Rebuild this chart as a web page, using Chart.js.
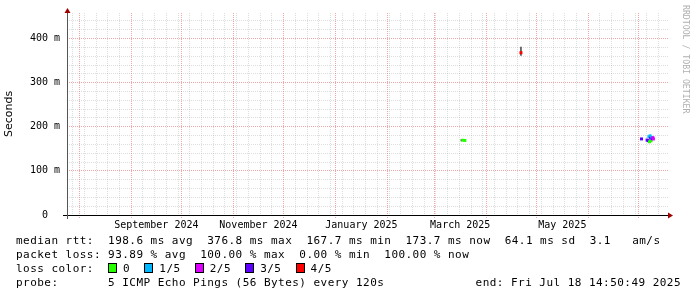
<!DOCTYPE html>
<html>
<head>
<meta charset="utf-8">
<script src="https://cdn.jsdelivr.net/npm/chart.js@4"></script>
<style>
  html, body { margin: 0; padding: 0; background: #fff; }
  #wrap { position: relative; width: 697px; height: 297px; overflow: hidden; background: #fff; }
  #c { position: absolute; left: 0; top: 0; }
  .txt { position: absolute; left: 16px; font-family: "DejaVu Sans Mono", monospace; font-size: 11px; letter-spacing: 0.46px; line-height: 14px; white-space: pre; color: #000; }
  .sw { display: inline-block; width: 7px; height: 8px; border: 1px solid #000; vertical-align: -1px; margin-right: 6px; }
  #brand { position: absolute; left: 681px; top: 5px; writing-mode: vertical-rl; font-family: "DejaVu Sans Mono", monospace; font-size: 8.2px; line-height: 10px; color: #b0b0b0; white-space: pre; }
</style>
</head>
<body>
<div id="wrap">
  <canvas id="c" width="697" height="297"></canvas>
  <div id="brand">RRDTOOL / TOBI OETIKER</div>
  <div class="txt" style="top:234px">median rtt:  198.6 ms avg  376.8 ms max  167.7 ms min  173.7 ms now  64.1 ms sd  3.1   am/s</div>
  <div class="txt" style="top:248px">packet loss: 93.89 % avg  100.00 % max  0.00 % min  100.00 % now</div>
  <div class="txt" id="losses" style="top:262px">loss color:  </div>
  <div class="txt" style="top:276px">probe:       5 ICMP Echo Pings (56 Bytes) every 120s</div>
  <div class="txt" style="top:276px; left:auto; right:16px">end: Fri Jul 18 14:50:49 2025</div>
</div>
<script>
// time window of the graph (UTC)
const rangeStart = '2024-07-24T15:30:00';
const rangeEnd = '2025-07-18T14:50:49';

// month starts (red grid) and the labelled months
const monthStarts = ['2024-08-01', '2024-09-01', '2024-10-01', '2024-11-01', '2024-12-01', '2025-01-01',
  '2025-02-01', '2025-03-01', '2025-04-01', '2025-05-01', '2025-06-01', '2025-07-01'];
const labelMonths = ['2024-09-01', '2024-11-01', '2025-01-01', '2025-03-01', '2025-05-01'];
const monthLabels = ['September 2024', 'November 2024', 'January 2025', 'March 2025', 'May 2025'];
const firstSunday = '2024-07-28';

// y axis
const yTickValues = [0, 100, 200, 300, 400];
const yTickLabels = ['0  ', '100 m', '200 m', '300 m', '400 m'];
const yMax = 458;

// median rtt samples (ms) and lost pings out of 5
const sampleTimes = ['2025-03-18T02:00', '2025-03-19T07:00', '2025-04-21T19:00', '2025-07-02T19:00',
  '2025-07-06T03:00', '2025-07-06T17:00', '2025-07-07T05:00', '2025-07-07T14:00', '2025-07-07T22:00',
  '2025-07-08T05:00', '2025-07-08T12:00', '2025-07-08T19:00', '2025-07-09T02:00', '2025-07-09T14:00',
  '2025-07-09T22:00'];
const medianMs = [169.5, 169, 368, 172.5, 170, 168.5, 177.5, 166, 179.5, 174, 168.5, 176, 173, 175.5, 172.5];
const lostPings = [0, 0, 4, 3, 3, 3, 1, 0, 1, 3, 0, 1, 3, 2, 2];

// smoke (spread of the pings)
const smokeTimes = ['2025-03-17T05:00', '2025-04-21T19:00'];
const smokeLo = [168, 362];
const smokeHi = [171, 381];

// loss legend
const lossLabels = ['0', '1/5', '2/5', '3/5', '4/5'];
const lossColors = ['#26ff00', '#00b8ff', '#dd00ff', '#5e00ff', '#ff0000'];

const t = s => Date.parse(s + (s.length > 10 ? 'Z' : 'T00:00:00Z'));
const DAY = 864e5;
const xMin = t(rangeStart), xMax = t(rangeEnd);

const majorX = monthStarts.map(t);
const gridX = majorX.map(v => ({ value: v, major: true }));
for (let w = t(firstSunday); w < xMax; w += 7 * DAY) {
  if (!majorX.includes(w)) gridX.push({ value: w, major: false });
}
gridX.sort((a, b) => a.value - b.value);

const labelX = labelMonths.map(m => {
  const s = t(m);
  const d = new Date(s);
  const next = Date.UTC(d.getUTCFullYear(), d.getUTCMonth() + 1, 1);
  return { value: (s + next) / 2 };
});

const gridY = [];
for (let v = 0; v < yMax; v += 20) gridY.push({ value: v });

const MAJOR = 'rgba(225,60,60,0.45)';
const MINOR = 'rgba(150,150,150,0.32)';

// legend swatches
const lossBox = document.getElementById('losses');
lossLabels.forEach((l, i) => {
  const sw = document.createElement('span');
  sw.className = 'sw';
  sw.style.background = lossColors[i];
  lossBox.appendChild(sw);
  lossBox.appendChild(document.createTextNode(l + (i < lossLabels.length - 1 ? '  ' : '')));
});

const axesPlugin = {
  id: 'rrdAxes',
  afterDraw(chart) {
    const { ctx, chartArea: a } = chart;
    ctx.save();
    ctx.lineWidth = 1;
    ctx.strokeStyle = '#000';
    ctx.beginPath();
    ctx.moveTo(a.left - 4, a.bottom + 0.5);
    ctx.lineTo(a.right + 1, a.bottom + 0.5);
    ctx.stroke();
    ctx.strokeStyle = '#555';
    ctx.beginPath();
    ctx.moveTo(a.left + 0.5, a.bottom + 4);
    ctx.lineTo(a.left + 0.5, a.top - 2);
    ctx.stroke();
    ctx.fillStyle = '#a00000';
    ctx.beginPath();
    ctx.moveTo(a.right, a.bottom - 2.5);
    ctx.lineTo(a.right + 5, a.bottom + 0.5);
    ctx.lineTo(a.right, a.bottom + 3.5);
    ctx.closePath();
    ctx.fill();
    ctx.beginPath();
    ctx.moveTo(a.left - 2.5, a.top);
    ctx.lineTo(a.left + 0.5, a.top - 5);
    ctx.lineTo(a.left + 3.5, a.top);
    ctx.closePath();
    ctx.fill();
    ctx.restore();
  }
};

new Chart(document.getElementById('c'), {
  type: 'scatter',
  data: {
    datasets: [{
      type: 'bar',
      label: 'smoke',
      data: smokeTimes.map((s, i) => ({ x: t(s), y: [smokeLo[i], smokeHi[i]] })),
      backgroundColor: '#555',
      barThickness: 1,
      order: 2
    }, {
      label: 'median rtt',
      data: sampleTimes.map((s, i) => ({ x: t(s), y: medianMs[i] })),
      pointStyle: 'rect',
      pointRadius: 2.1,
      pointBorderWidth: 0,
      pointBackgroundColor: lostPings.map(l => lossColors[l]),
      order: 1
    }]
  },
  options: {
    responsive: false,
    animation: false,
    events: [],
    layout: { padding: { left: 0, right: 29, top: 12, bottom: 0 } },
    plugins: { legend: { display: false }, tooltip: { enabled: false } },
    scales: {
      x: {
        type: 'linear',
        min: xMin,
        max: xMax,
        offset: false,
        weight: 0,
        afterBuildTicks: s => { s.ticks = gridX.map(g => ({ ...g })); },
        afterFit: s => { s.height = 0; },
        ticks: { display: false, autoSkip: false },
        border: { display: false, dash: [1, 1] },
        grid: {
          offset: false,
          color: c => (c.tick && c.tick.major ? MAJOR : MINOR),
          tickColor: c => (c.tick && c.tick.major ? MAJOR : 'rgba(0,0,0,0)'),
          tickLength: 3,
          tickBorderDash: [1, 1]
        }
      },
      x2: {
        type: 'linear',
        position: 'bottom',
        min: xMin,
        max: xMax,
        offset: false,
        weight: 1,
        afterBuildTicks: s => { s.ticks = labelX.map(g => ({ ...g })); },
        afterFit: s => { s.height = 82; },
        border: { display: false },
        grid: { display: false, drawTicks: false },
        ticks: {
          autoSkip: false,
          maxRotation: 0,
          padding: 4,
          color: '#000',
          font: { family: 'DejaVu Sans Mono', size: 10 },
          callback: (v, i) => monthLabels[i]
        }
      },
      y: {
        type: 'linear',
        min: 0,
        max: yMax,
        afterBuildTicks: s => { s.ticks = gridY.map(g => ({ ...g })); },
        afterFit: s => { s.width = 67; },
        border: { display: false, dash: [1, 1] },
        grid: {
          drawTicks: false,
          color: c => (c.tick && c.tick.value % 100 === 0 ? MAJOR : MINOR)
        },
        ticks: {
          autoSkip: false,
          padding: 7,
          color: '#000',
          font: { family: 'DejaVu Sans Mono', size: 10 },
          callback: v => {
            const i = yTickValues.indexOf(v);
            return i >= 0 ? yTickLabels[i] : '';
          }
        },
        title: {
          display: true,
          text: 'Seconds',
          color: '#000',
          padding: { top: 3, bottom: 0 },
          font: { family: 'DejaVu Sans', size: 11 }
        }
      }
    }
  },
  plugins: [axesPlugin]
});
</script>
</body>
</html>
